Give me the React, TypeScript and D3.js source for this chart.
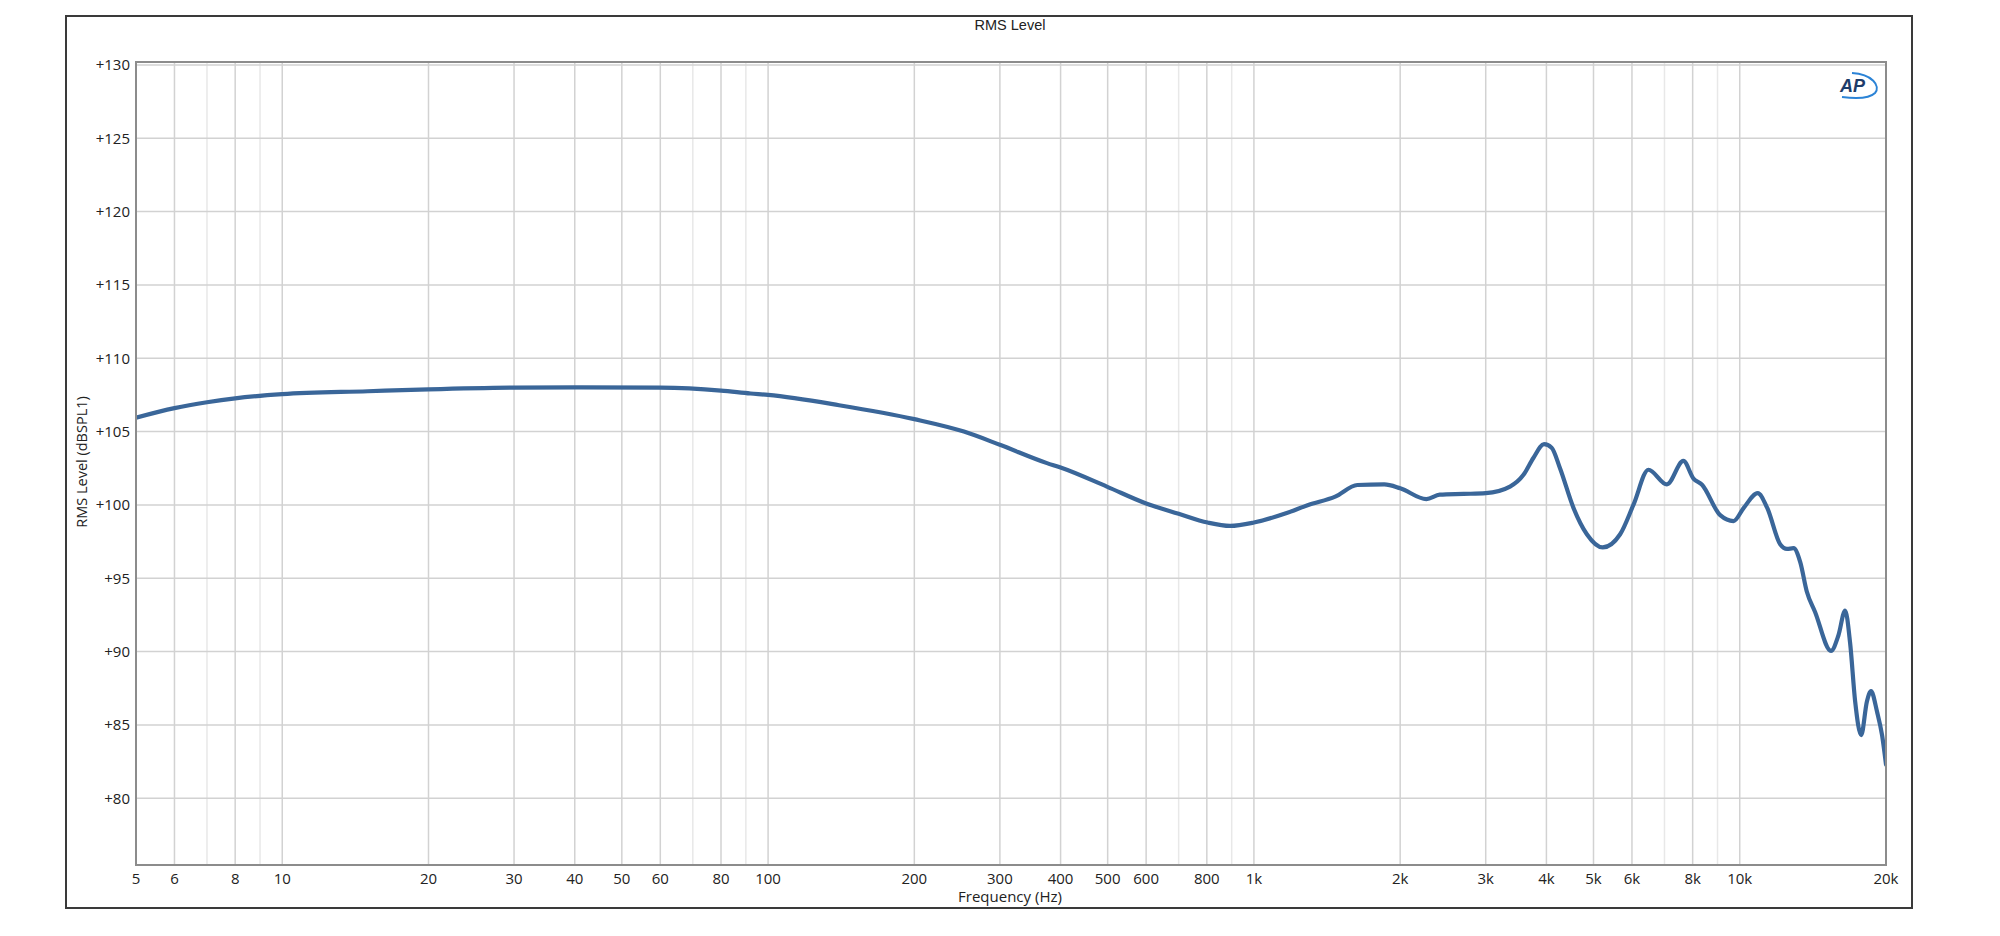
import React from 'react';
import * as d3 from 'd3';

// frequency response readings (Hz, dBSPL)
const freqs = [
  5, 6, 7, 8, 10, 15, 20, 30, 40, 60, 80, 92, 100, 140, 200, 253, 300, 375, 400, 498,
  600, 700, 803, 893, 1000, 1164, 1294, 1470, 1633, 1855, 2000, 2265, 2413, 2700, 3000,
  3366, 3588, 3760, 3955, 4100, 4266, 4547, 4845, 5224, 5673, 6041, 6487, 7080, 7655,
  8030, 8355, 9115, 9710, 10190, 10890, 11390, 12120, 12510, 12900, 13320, 13740, 14290,
  15410, 15960, 16480, 16870, 17280, 17780, 18270, 18630, 19170, 19630, 20000,
];
const levels = [
  105.95, 106.6, 107.0, 107.27, 107.55, 107.75, 107.88, 108.0, 108.02, 108.0, 107.8, 107.6,
  107.5, 106.8, 105.85, 105.0, 104.1, 102.85, 102.55, 101.25, 100.1, 99.4, 98.8, 98.57,
  98.8, 99.43, 100.0, 100.57, 101.36, 101.4, 101.14, 100.4, 100.7, 100.75, 100.8, 101.25,
  102.05, 103.2, 104.14, 103.9, 102.5, 99.8, 98.0, 97.1, 98.0, 100.0, 102.4, 101.4, 103.0,
  101.8, 101.4, 99.3, 98.9, 99.8, 100.8, 99.8, 97.3, 97.0, 97.05, 96.1, 94.1, 92.7, 90.05,
  91.1, 92.8, 90.6, 86.6, 84.3, 86.6, 87.3, 85.9, 84.3, 82.3,
];

const xTickValues = [5, 6, 8, 10, 20, 30, 40, 50, 60, 80, 100, 200, 300, 400, 500, 600, 800,
  1000, 2000, 3000, 4000, 5000, 6000, 8000, 10000, 20000];
const xTickLabels = ['5', '6', '8', '10', '20', '30', '40', '50', '60', '80', '100', '200', '300',
  '400', '500', '600', '800', '1k', '2k', '3k', '4k', '5k', '6k', '8k', '10k', '20k'];
const yTickValues = [80, 85, 90, 95, 100, 105, 110, 115, 120, 125, 130];

const W = 2000, H = 936;
const plot = { left: 136, right: 1886, top: 62, bottom: 865 };

export default function App() {
  const x = d3.scaleLog().domain([5, 20000]).range([plot.left, plot.right]);
  const y = d3.scaleLinear().domain([75.45, 130.2]).range([plot.bottom, plot.top]);

  // grid lines at every 1..9 x decade; 7 and 9 drawn lighter
  const gridMajor: number[] = [];
  const gridMinor: number[] = [];
  [1, 10, 100, 1000, 10000].forEach(dec => {
    for (let m = 1; m <= 9; m++) {
      const f = m * dec;
      if (f <= 5 || f >= 20000) continue;
      (m === 7 || m === 9 ? gridMinor : gridMajor).push(f);
    }
  });

  const pts = freqs.map((f, i) => [f, levels[i]] as [number, number]);
  const line = d3.line<[number, number]>()
    .x(d => x(d[0]))
    .y(d => y(d[1]))
    .curve(d3.curveMonotoneX);

  const tickFont = '"Open Sans", "Noto Sans", sans-serif';

  return (
    <svg width={W} height={H} style={{ position: 'absolute', left: 0, top: 0, background: '#fff' }}>
      <rect x={0} y={0} width={W} height={H} fill="#fff" />
      {/* outer frame */}
      <rect x={66} y={16} width={1846} height={892} fill="none" stroke="#3a3a3a" strokeWidth={2} />
      <text x={1010} y={30} textAnchor="middle" fontFamily='"Liberation Sans", Arial, sans-serif'
        fontSize={14.5} fill="#222">RMS Level</text>

      {/* grid */}
      <g>
        {gridMinor.map(f => (
          <line key={'n' + f} x1={x(f)} x2={x(f)} y1={plot.top} y2={plot.bottom} stroke="#e8e8e8" strokeWidth={1.5} />
        ))}
        {gridMajor.map(f => (
          <line key={'j' + f} x1={x(f)} x2={x(f)} y1={plot.top} y2={plot.bottom} stroke="#d2d2d2" strokeWidth={1.5} />
        ))}
        {yTickValues.map(v => (
          <line key={'h' + v} x1={plot.left} x2={plot.right} y1={y(v)} y2={y(v)} stroke="#d2d2d2" strokeWidth={1.5} />
        ))}
      </g>

      {/* curve */}
      <clipPath id="plotclip">
        <rect x={plot.left} y={plot.top} width={plot.right - plot.left} height={plot.bottom - plot.top} />
      </clipPath>
      <path d={line(pts) || ''} fill="none" stroke="#3a6699" strokeWidth={4.2}
        strokeLinejoin="round" strokeLinecap="round" clipPath="url(#plotclip)" />

      {/* plot border */}
      <rect x={plot.left} y={plot.top} width={plot.right - plot.left} height={plot.bottom - plot.top}
        fill="none" stroke="#8c8c8c" strokeWidth={2} />

      {/* y ticks */}
      {yTickValues.map(v => (
        <text key={'yt' + v} x={130} y={y(v)} dy="0.35em" textAnchor="end" fontFamily={tickFont}
          fontSize={15} fill="#222">{'+' + v}</text>
      ))}
      {/* x ticks */}
      {xTickValues.map((f, i) => (
        <text key={'xt' + f} x={x(f)} y={884} textAnchor="middle" fontFamily={tickFont}
          fontSize={15} fill="#222">{xTickLabels[i]}</text>
      ))}

      <text x={1010} y={902} textAnchor="middle" fontFamily={tickFont} fontSize={15} fill="#222">Frequency (Hz)</text>
      <text transform="translate(82,462) rotate(-90)" dy="0.35em" textAnchor="middle" fontFamily={tickFont}
        fontSize={14.5} fill="#222">RMS Level (dBSPL1)</text>

      {/* AP logo */}
      <g>
        <path d="M1852,73 C1872,74 1881,86 1875,93 C1870,98 1858,99 1842,97" fill="none" stroke="#2b83d6" strokeWidth={2} />
        <text x={1840} y={92} fontFamily='"Liberation Sans", Arial, sans-serif' fontWeight="bold" fontStyle="italic"
          fontSize={18} fill="#1d3c6a">AP</text>
      </g>
    </svg>
  );
}
